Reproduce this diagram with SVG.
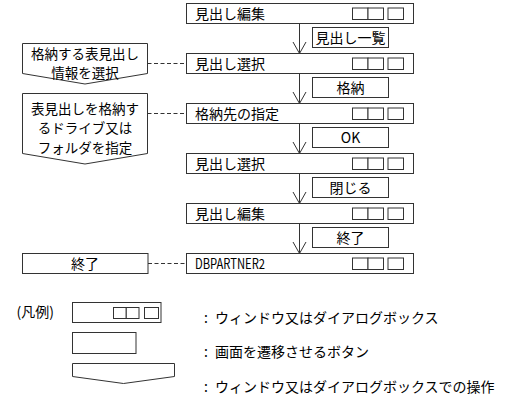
<svg xmlns="http://www.w3.org/2000/svg" width="507" height="403" viewBox="0 0 507 403">
<defs>
<style>
text{font-family:"Noto Sans CJK JP","Noto Sans",sans-serif;font-size:14px;fill:#000}
.op{font-size:13.5px}
.box{fill:#fff;stroke:#333;stroke-width:1}
.sq{fill:#fff;stroke:#333;stroke-width:1}
.ln{fill:none;stroke:#333;stroke-width:1}
.dash{fill:none;stroke:#333;stroke-width:1;stroke-dasharray:4,2.5}
.c{text-anchor:middle}
</style>
<g id="winicons">
<rect class="sq" x="0" y="0" width="15.5" height="11.5"/>
<rect class="sq" x="15.5" y="0" width="15.5" height="11.5"/>
<rect class="sq" x="35.5" y="0" width="15.5" height="11.5"/>
</g>
</defs>
<rect width="507" height="403" fill="#fff"/>

<g id="connectors">
<line class="ln" x1="299.5" y1="23.5" x2="299.5" y2="53.5"/>
<polyline class="ln" points="293,42 299.5,53.5 306,42"/>
<line class="ln" x1="299.5" y1="73.5" x2="299.5" y2="103.5"/>
<polyline class="ln" points="293,92 299.5,103.5 306,92"/>
<line class="ln" x1="299.5" y1="123.5" x2="299.5" y2="153.5"/>
<polyline class="ln" points="293,142 299.5,153.5 306,142"/>
<line class="ln" x1="299.5" y1="173.5" x2="299.5" y2="203.5"/>
<polyline class="ln" points="293,192 299.5,203.5 306,192"/>
<line class="ln" x1="299.5" y1="223.5" x2="299.5" y2="253.5"/>
<polyline class="ln" points="293,242 299.5,253.5 306,242"/>
<line class="dash" x1="147.5" y1="63.5" x2="186.5" y2="63.5"/>
<line class="dash" x1="147.5" y1="113.5" x2="186.5" y2="113.5"/>
<line class="dash" x1="148" y1="263.5" x2="186.5" y2="263.5"/>
</g>

<g id="w1"><rect class="box" x="186.5" y="3.5" width="227" height="20"/><use href="#winicons" x="352.5" y="8"/><text x="195" y="18.5">見出し編集</text></g>
<g id="b1"><rect class="box" x="312.5" y="27.5" width="76" height="20"/><text class="c" x="350.5" y="42.5">見出し一覧</text></g>
<g id="w2"><rect class="box" x="186.5" y="53.5" width="227" height="20"/><use href="#winicons" x="352.5" y="58"/><text x="195" y="68.5">見出し選択</text></g>
<g id="b2"><rect class="box" x="312.5" y="77.5" width="76" height="20"/><text class="c" x="350.5" y="92.5">格納</text></g>
<g id="w3"><rect class="box" x="186.5" y="103.5" width="227" height="20"/><use href="#winicons" x="352.5" y="108"/><text x="195" y="118.5">格納先の指定</text></g>
<g id="b3"><rect class="box" x="312.5" y="127.5" width="76" height="20"/><text class="c" x="350.5" y="142.5">OK</text></g>
<g id="w4"><rect class="box" x="186.5" y="153.5" width="227" height="20"/><use href="#winicons" x="352.5" y="158"/><text x="195" y="168.5">見出し選択</text></g>
<g id="b4"><rect class="box" x="312.5" y="177.5" width="76" height="20"/><text class="c" x="350.5" y="192.5">閉じる</text></g>
<g id="w5"><rect class="box" x="186.5" y="203.5" width="227" height="20"/><use href="#winicons" x="352.5" y="208"/><text x="195" y="218.5">見出し編集</text></g>
<g id="b5"><rect class="box" x="312.5" y="227.5" width="76" height="20"/><text class="c" x="350.5" y="242.5">終了</text></g>
<g id="w6"><rect class="box" x="186.5" y="253.5" width="227" height="20"/><use href="#winicons" x="352.5" y="258"/><text x="195" y="268.5" textLength="70" lengthAdjust="spacingAndGlyphs">DBPARTNER2</text></g>

<g id="op1"><path class="box" d="M22.5,43.5 H147.5 V73.5 L85,84 L22.5,73.5 Z"/><text class="c op" x="85" y="58.5">格納する表見出し<tspan x="85" y="78.2">情報を選択</tspan></text></g>
<g id="op2"><path class="box" d="M22.5,93.5 H147.5 V153.5 L85,164 L22.5,153.5 Z"/><text class="c op" x="85" y="113.6">表見出しを格納す<tspan x="85" y="133.3">るドライブ又は</tspan><tspan x="85" y="153">フォルダを指定</tspan></text></g>
<g id="op3"><rect class="box" x="22.5" y="253.5" width="125.5" height="20"/><text class="c" x="85" y="268.5">終了</text></g>

<g id="legend">
<text x="16.5" y="317">(凡例)</text>
<rect class="box" x="72.5" y="302.5" width="88.5" height="20"/>
<rect class="sq" x="113.5" y="307.5" width="12.75" height="11"/>
<rect class="sq" x="126.25" y="307.5" width="12.75" height="11"/>
<rect class="sq" x="144.5" y="307.5" width="14" height="11"/>
<rect class="box" x="72.5" y="332.5" width="63.5" height="21"/>
<path class="box" d="M72.5,363.5 H174.5 V376.5 L123.5,383.5 L72.5,376.5 Z"/>
<text x="204" y="323.3">:<tspan x="215">ウィンドウ又はダイアログボックス</tspan></text>
<text x="204" y="356.7">:<tspan x="215">画面を遷移させるボタン</tspan></text>
<text x="204" y="391.7">:<tspan x="215">ウィンドウ又はダイアログボックスでの操作</tspan></text>
</g>
</svg>
